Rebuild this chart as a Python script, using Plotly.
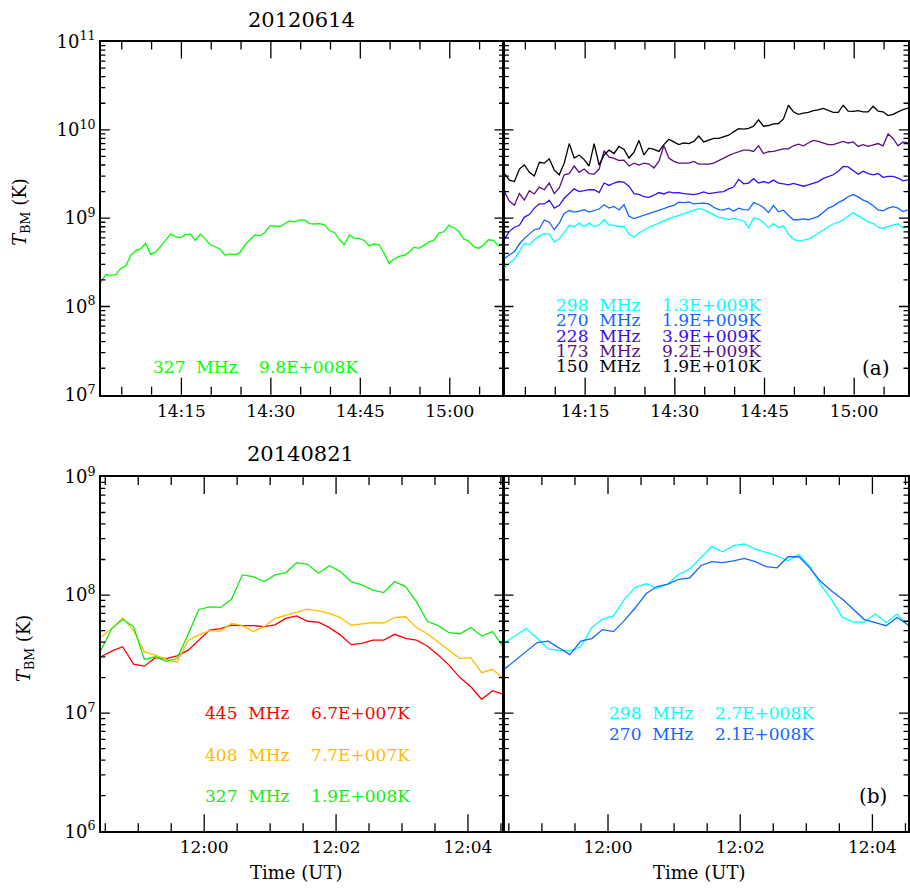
import math
import plotly.graph_objects as go
import pandas as pd

# ---------------- data: 2012-06-14 (panel a), 50-s samples from 14:01:30 ----------------
top_start = "2012-06-14 14:01:30"
top_step = "50s"
top_n = 82

g327_a = [x * 1e8 for x in [
    1.9, 2.3, 2.25, 2.3, 2.7, 2.9, 3.8, 4.3, 4.5, 5.2,
    3.9, 4.1, 4.8, 5.6, 6.6, 6.2, 6.0, 6.5, 6.6, 5.6,
    6.6, 5.8, 5.0, 4.75, 4.45, 3.8, 3.95, 3.85, 4.1, 5.0,
    5.7, 6.5, 6.3, 6.9, 8.2, 8.2, 8.0, 8.7, 9.3, 9.1,
    9.5, 9.5, 8.7, 8.6, 8.7, 8.4, 7.2, 6.9, 5.7, 5.0,
    6.45, 5.9, 5.9, 5.6, 4.85, 5.1, 5.0, 4.0, 3.1, 3.45,
    3.7, 3.8, 4.1, 4.7, 4.55, 4.95, 5.4, 5.6, 6.8, 7.0,
    8.3, 7.8, 7.1, 5.8, 5.5, 4.8, 4.55, 5.0, 5.7, 5.6,
    4.85, 5.2]]

c298_a = [x * 1e9 for x in [
    0.275, 0.31, 0.345, 0.42, 0.52, 0.50, 0.57, 0.63, 0.67, 0.66,
    0.54, 0.58, 0.70, 0.83, 0.80, 0.88, 0.805, 0.88, 0.805, 0.84,
    0.96, 0.84, 0.83, 0.805, 0.805, 0.66, 0.61, 0.68, 0.73, 0.79,
    0.83, 0.88, 0.95, 0.99, 1.03, 1.08, 1.13, 1.18, 1.22, 1.28,
    1.25, 1.17, 1.10, 1.02, 1.00, 0.96, 1.00, 0.96, 0.93, 0.78,
    1.00, 0.98, 0.89, 0.78, 0.87, 0.78, 0.82, 0.66, 0.58, 0.55,
    0.57, 0.58, 0.62, 0.67, 0.73, 0.80, 0.86, 0.90, 0.96, 1.05,
    1.15, 1.07, 0.99, 0.91, 0.87, 0.79, 0.77, 0.805, 0.84, 0.86,
    0.78, 0.80]]

b270_a = [x * 1e9 for x in [
    0.35, 0.38, 0.42, 0.51, 0.59, 0.66, 0.74, 0.76, 0.95, 0.90,
    0.74, 0.88, 1.13, 1.22, 1.17, 1.20, 1.25, 1.17, 1.22, 1.27,
    1.42, 1.30, 1.36, 1.24, 1.42, 1.05, 0.99, 1.03, 1.08, 1.12,
    1.18, 1.23, 1.28, 1.35, 1.40, 1.52, 1.50, 1.53, 1.45, 1.47,
    1.48, 1.45, 1.33, 1.25, 1.24, 1.30, 1.20, 1.30, 1.25, 1.24,
    1.50, 1.43, 1.32, 1.16, 1.40, 1.18, 1.23, 1.08, 0.96, 0.96,
    0.98, 0.96, 1.00, 1.05, 1.17, 1.30, 1.37, 1.50, 1.60, 1.75,
    1.85, 1.74, 1.60, 1.52, 1.38, 1.24, 1.21, 1.30, 1.35, 1.30,
    1.19, 1.24]]

v228_a = [x * 1e9 for x in [
    0.58, 0.71, 0.79, 0.83, 1.03, 1.10, 1.30, 1.45, 1.45, 1.60,
    1.30, 1.40, 1.68, 1.90, 2.15, 2.00, 2.05, 2.10, 2.10, 1.95,
    2.50, 2.35, 2.50, 2.60, 2.55, 2.30, 1.90, 1.86, 1.75, 1.72,
    1.82, 1.95, 1.88, 1.98, 1.93, 1.95, 1.90, 1.87, 1.85, 1.90,
    1.98, 1.90, 1.92, 1.97, 2.00, 2.15, 2.25, 2.75, 2.45, 2.50,
    2.80, 2.50, 2.60, 2.50, 2.70, 2.50, 2.45, 2.38, 2.48, 2.40,
    2.30, 2.38, 2.50, 2.60, 2.82, 2.95, 3.10, 3.40, 3.85, 3.80,
    3.45, 3.15, 3.40, 3.20, 3.10, 3.20, 2.90, 2.97, 2.97, 2.85,
    2.65, 2.72]]

p173_a = [x * 1e9 for x in [
    2.0, 1.55, 1.4, 1.9, 1.6, 2.05, 1.88, 2.25, 2.1, 2.5,
    1.9, 2.2, 3.1, 3.2, 3.9, 3.3, 3.6, 3.2, 3.15, 3.6,
    5.8, 4.9, 4.75, 4.5, 4.55, 3.9, 4.2, 4.0, 4.2, 4.1,
    3.7, 4.4, 6.6, 4.8, 4.4, 4.2, 4.2, 4.2, 4.4, 4.1,
    4.1, 4.1, 4.2, 4.5, 4.8, 5.1, 5.4, 5.6, 5.9, 5.9,
    5.7, 6.6, 5.4, 5.65, 5.7, 5.9, 6.1, 6.1, 6.6, 6.9,
    6.6, 7.1, 7.6, 7.4, 7.1, 6.8, 6.8, 7.1, 7.4, 7.1,
    7.3, 6.5, 6.8, 6.5, 6.8, 7.0, 6.6, 9.0, 8.0, 6.6,
    7.3, 7.1]]

k150_a = [x * 1e9 for x in [
    3.2, 2.7, 2.6, 3.6, 4.0, 3.3, 3.0, 4.3, 4.2, 4.7,
    3.5, 3.1, 4.2, 7.0, 4.8, 5.2, 4.6, 3.9, 7.0, 4.0,
    5.2, 5.9, 5.4, 6.5, 6.0, 4.8, 5.6, 7.6, 5.2, 6.2,
    6.0, 5.7, 6.8, 7.8, 7.3, 6.8, 7.1, 7.0, 7.4, 8.5,
    7.3, 7.6, 8.0, 8.0, 8.4, 8.7, 9.5, 10.3, 10.2, 10.4,
    11.0, 13.0, 11.0, 11.2, 11.7, 11.8, 13.3, 19.0, 16.0, 15.0,
    15.5, 15.8, 16.5, 16.8, 17.5, 16.5, 15.8, 15.8, 19.0, 16.3,
    16.2, 16.5, 16.0, 16.0, 18.5, 16.3, 16.0, 14.5, 15.0, 16.0,
    17.0, 17.6]]

# ---------------- data: 2014-08-21 (panel b) ----------------
bot_start = "2014-08-21 11:58:26"
bot_step = "9900ms"
bot_n = 38

r445_b = [x * 1e7 for x in [
    3.0, 3.35, 3.65, 2.6, 2.5, 2.95, 2.9, 3.05, 3.4, 4.15,
    5.05, 5.2, 5.55, 5.5, 5.5, 5.4, 5.6, 6.35, 6.65, 6.0,
    5.9, 5.3, 4.6, 3.8, 3.9, 4.15, 4.15, 4.65, 4.3, 4.15,
    3.7, 3.1, 2.55, 2.0, 1.67, 1.31, 1.55, 1.44]]
o408_b = [x * 1e7 for x in [
    4.4, 5.2, 6.4, 5.0, 3.3, 3.1, 2.85, 2.7, 4.1, 4.6,
    5.0, 4.95, 5.75, 5.5, 4.9, 5.4, 6.35, 6.75, 7.1, 7.6,
    7.35, 7.0, 6.45, 5.55, 5.7, 5.85, 5.8, 6.45, 6.55, 5.3,
    4.7, 4.0, 3.4, 2.9, 2.95, 2.2, 2.35, 1.96]]
g327_b = [x * 1e7 for x in [
    3.4, 5.2, 6.2, 5.4, 2.85, 3.0, 2.75, 2.9, 4.6, 7.55,
    7.95, 7.85, 9.2, 14.8, 14.3, 13.0, 14.8, 15.5, 18.8, 18.2,
    15.3, 17.7, 15.8, 13.0, 12.2, 11.0, 10.5, 13.0, 11.8, 8.8,
    6.0, 5.5, 4.8, 4.7, 5.3, 4.5, 4.9, 3.6]]
c298_b = [x * 1e7 for x in [
    3.94, 4.5, 5.2, 4.3, 3.5, 3.4, 3.37, 3.65, 5.3, 6.25,
    6.65, 9.25, 11.6, 12.5, 11.4, 12.5, 15.0, 16.6, 20.7, 25.7,
    23.2, 26.2, 27.1, 24.5, 23.0, 21.4, 19.5, 22.1, 17.4, 12.2,
    9.1, 6.46, 5.9, 5.9, 6.9, 5.85, 6.9, 5.5]]
b270_b = [x * 1e7 for x in [
    2.36, 2.8, 3.3, 3.96, 4.07, 3.57, 3.13, 4.07, 4.28, 5.1,
    4.9, 6.1, 7.8, 10.3, 11.8, 12.4, 13.6, 14.0, 17.7, 19.2,
    18.8, 19.5, 20.4, 19.2, 17.4, 17.0, 21.1, 21.1, 17.0, 13.0,
    10.8, 9.2, 7.6, 6.2, 5.85, 5.5, 6.46, 5.6]]

legend_a_left = [("327", "9.8E+008", "#00ff00")]
legend_a_right = [("298", "1.3E+009", "#00ffff"), ("270", "1.9E+009", "#1466ff"),
                  ("228", "3.9E+009", "#3a0cf0"), ("173", "9.2E+009", "#5a1080"),
                  ("150", "1.9E+010", "#000000")]
legend_b_left = [("445", "6.7E+007", "#ff0000"), ("408", "7.7E+007", "#ffbb00"),
                 ("327", "1.9E+008", "#11ee11")]
legend_b_right = [("298", "2.7E+008", "#00ffff"), ("270", "2.1E+008", "#1466ff")]

t_top = pd.date_range(top_start, periods=top_n, freq=top_step)
t_bot = pd.date_range(bot_start, periods=bot_n, freq=bot_step)

# axis ranges and tick positions (axis furniture)
top_range = ["2012-06-14 14:01:30", "2012-06-14 15:09:00"]
bot_range = ["2014-08-21 11:58:26", "2014-08-21 12:04:32.3"]
top_major = list(pd.date_range("2012-06-14 14:15", "2012-06-14 15:00", freq="15min"))
top_minor = [t for t in pd.date_range("2012-06-14 14:05", "2012-06-14 15:05", freq="5min") if t not in top_major]
bot_major = list(pd.date_range("2014-08-21 12:00", "2014-08-21 12:04", freq="2min"))
bot_minor = [t for t in pd.date_range("2014-08-21 11:58:30", "2014-08-21 12:04:30", freq="30s") if t not in bot_major]

# ---------------- figure ----------------
W, H = 910, 888
FONT = "DejaVu Serif"
# the photographed page maps figure y to 0.9732*y + 13.5; place things so they land where the reference has them
SY, OY = 0.9732, 13.5


def fy(y_ref):
    return (y_ref - OY) / SY


def pxx(x):
    return x / W


def pyy(y_ref):
    return 1 - fy(y_ref) / H


fig = go.Figure()
LW = 1.3

fig.add_trace(go.Scatter(x=t_top, y=g327_a, mode="lines", line=dict(color="#00ff00", width=LW), xaxis="x", yaxis="y"))
for ys, col in [(c298_a, "#00ffff"), (b270_a, "#1466ff"), (v228_a, "#3a0cf0"), (p173_a, "#5a1080"), (k150_a, "#000000")]:
    fig.add_trace(go.Scatter(x=t_top, y=ys, mode="lines", line=dict(color=col, width=LW), xaxis="x2", yaxis="y2"))
for ys, col in [(r445_b, "#ff0000"), (o408_b, "#ffbb00"), (g327_b, "#11ee11")]:
    fig.add_trace(go.Scatter(x=t_bot, y=ys, mode="lines", line=dict(color=col, width=LW), xaxis="x3", yaxis="y3"))
for ys, col in [(c298_b, "#00ffff"), (b270_b, "#1466ff")]:
    fig.add_trace(go.Scatter(x=t_bot, y=ys, mode="lines", line=dict(color=col, width=LW), xaxis="x4", yaxis="y4"))

xl = [101 / W, 504 / W]
xr = [505 / W, 909 / W]
yt = [pyy(395), pyy(42)]
yb = [pyy(831), pyy(477)]


def xdate(domain, rng, dtick, anchor, tick0):
    return dict(type="date", domain=domain, range=rng, anchor=anchor,
                showline=True, linecolor="black", linewidth=1.6, mirror=True, ticks="",
                showgrid=False, zeroline=False,
                tickfont=dict(family=FONT, size=17, color="black"),
                tickmode="linear", tick0=tick0, dtick=dtick, tickformat="%H:%M")


def ylog(domain, lo, hi, anchor, labels):
    majors = [10.0 ** e for e in range(lo, hi + 1)]
    return dict(type="log", domain=domain, range=[lo, hi], anchor=anchor,
                showline=True, linecolor="black", linewidth=1.6, mirror=True, ticks="",
                showgrid=False, zeroline=False,
                tickmode="array", tickvals=majors,
                ticktext=["10<sup>%d</sup>" % e for e in range(lo, hi + 1)],
                showticklabels=labels,
                tickfont=dict(family=FONT, size=18, color="black"))


fig.update_layout(
    width=W, height=H, margin=dict(l=0, r=0, t=0, b=0),
    paper_bgcolor="white", plot_bgcolor="rgba(0,0,0,0)", showlegend=False,
    xaxis=xdate(xl, top_range, 900000, "y", "2012-06-14 14:00:00"),
    xaxis2=xdate(xr, top_range, 900000, "y2", "2012-06-14 14:00:00"),
    xaxis3=xdate(xl, bot_range, 120000, "y3", "2014-08-21 12:00:00"),
    xaxis4=xdate(xr, bot_range, 120000, "y4", "2014-08-21 12:00:00"),
    yaxis=ylog(yt, 7, 11, "x", True),
    yaxis2=ylog(yt, 7, 11, "x2", False),
    yaxis3=ylog(yb, 6, 9, "x3", True),
    yaxis4=ylog(yb, 6, 9, "x4", False),
)


# inward tick marks on all four sides of a panel, as ONE path shape in axis-domain units
def tick_path_shape(xa, ya, xdom, ydom, xrng, lo, hi, xmaj, xmin):
    wp = (xdom[1] - xdom[0]) * W
    hp = (ydom[1] - ydom[0]) * H
    t0, t1 = pd.Timestamp(xrng[0]), pd.Timestamp(xrng[1])
    span = t1 - t0
    parts = []
    for vals, length in ((xmaj, 17 / SY), (xmin, 8 / SY)):
        d = length / hp
        for t in vals:
            f = (t - t0) / span
            parts.append("M%.5f,0L%.5f,%.5f" % (f, f, d))
            parts.append("M%.5f,1L%.5f,%.5f" % (f, f, 1 - d))
    ymaj = [10.0 ** e for e in range(lo + 1, hi)]
    ymin = [m * 10.0 ** e for e in range(lo, hi) for m in range(2, 10)]
    for vals, length in ((ymaj, 9), (ymin, 4.5)):
        d = length / wp
        for v in vals:
            g = (math.log10(v) - lo) / (hi - lo)
            parts.append("M0,%.5fL%.5f,%.5f" % (g, d, g))
            parts.append("M1,%.5fL%.5f,%.5f" % (g, 1 - d, g))
    return dict(type="path", xref=xa + " domain", yref=ya + " domain", path="".join(parts),
                line=dict(color="black", width=1.3), fillcolor="rgba(0,0,0,0)", layer="above")


fig.update_layout(shapes=[
    tick_path_shape("x", "y", xl, yt, top_range, 7, 11, top_major, top_minor),
    tick_path_shape("x2", "y2", xr, yt, top_range, 7, 11, top_major, top_minor),
    tick_path_shape("x3", "y3", xl, yb, bot_range, 6, 9, bot_major, bot_minor),
    tick_path_shape("x4", "y4", xr, yb, bot_range, 6, 9, bot_major, bot_minor),
])

ann = []


def text(x, y, s, size=17, color="black", anchor="left", angle=0):
    ann.append(dict(x=pxx(x), y=pyy(y), xref="paper", yref="paper", text=s, showarrow=False,
                    xanchor=anchor, yanchor="middle", textangle=angle,
                    font=dict(family=FONT, size=size, color=color)))


SP = "&nbsp;"


def leg(freq, val, col, x, y):
    text(x, y, freq + SP * 2 + "MHz" + SP * 4 + val + "K", color=col)


for (f, v, c) in legend_a_left:
    leg(f, v, c, 151, 367)
for i, (f, v, c) in enumerate(legend_a_right):
    leg(f, v, c, 555, 305 + i * 15.4)
for i, (f, v, c) in enumerate(legend_b_left):
    leg(f, v, c, 203, 713 + i * 41.5)
for i, (f, v, c) in enumerate(legend_b_right):
    leg(f, v, c, 608, 713 + i * 20.5)

text(302, 20, "20120614", size=21, anchor="center")
text(301, 454, "20140821", size=21, anchor="center")
text(877, 368, "(a)", size=20, anchor="center")
text(874, 796, "(b)", size=20, anchor="center")
text(21, 212, "<i>T</i><sub>BM</sub> (K)", size=18, anchor="center", angle=-90)
text(25, 648, "<i>T</i><sub>BM</sub> (K)", size=18, anchor="center", angle=-90)
text(296, 872, "Time (UT)", size=18, anchor="center")
text(700, 872, "Time (UT)", size=18, anchor="center")

fig.update_layout(annotations=ann)

post = ("document.documentElement.style.margin='0';document.documentElement.style.overflow='hidden';"
        "document.body.style.margin='0';document.body.style.padding='0';document.body.style.overflow='hidden';"
        "var g=document.getElementById('{plot_id}');g.style.position='absolute';"
        "g.style.left='0px';g.style.top='0px';")
fig.write_html("out.html", post_script=post, config={"displayModeBar": False})
